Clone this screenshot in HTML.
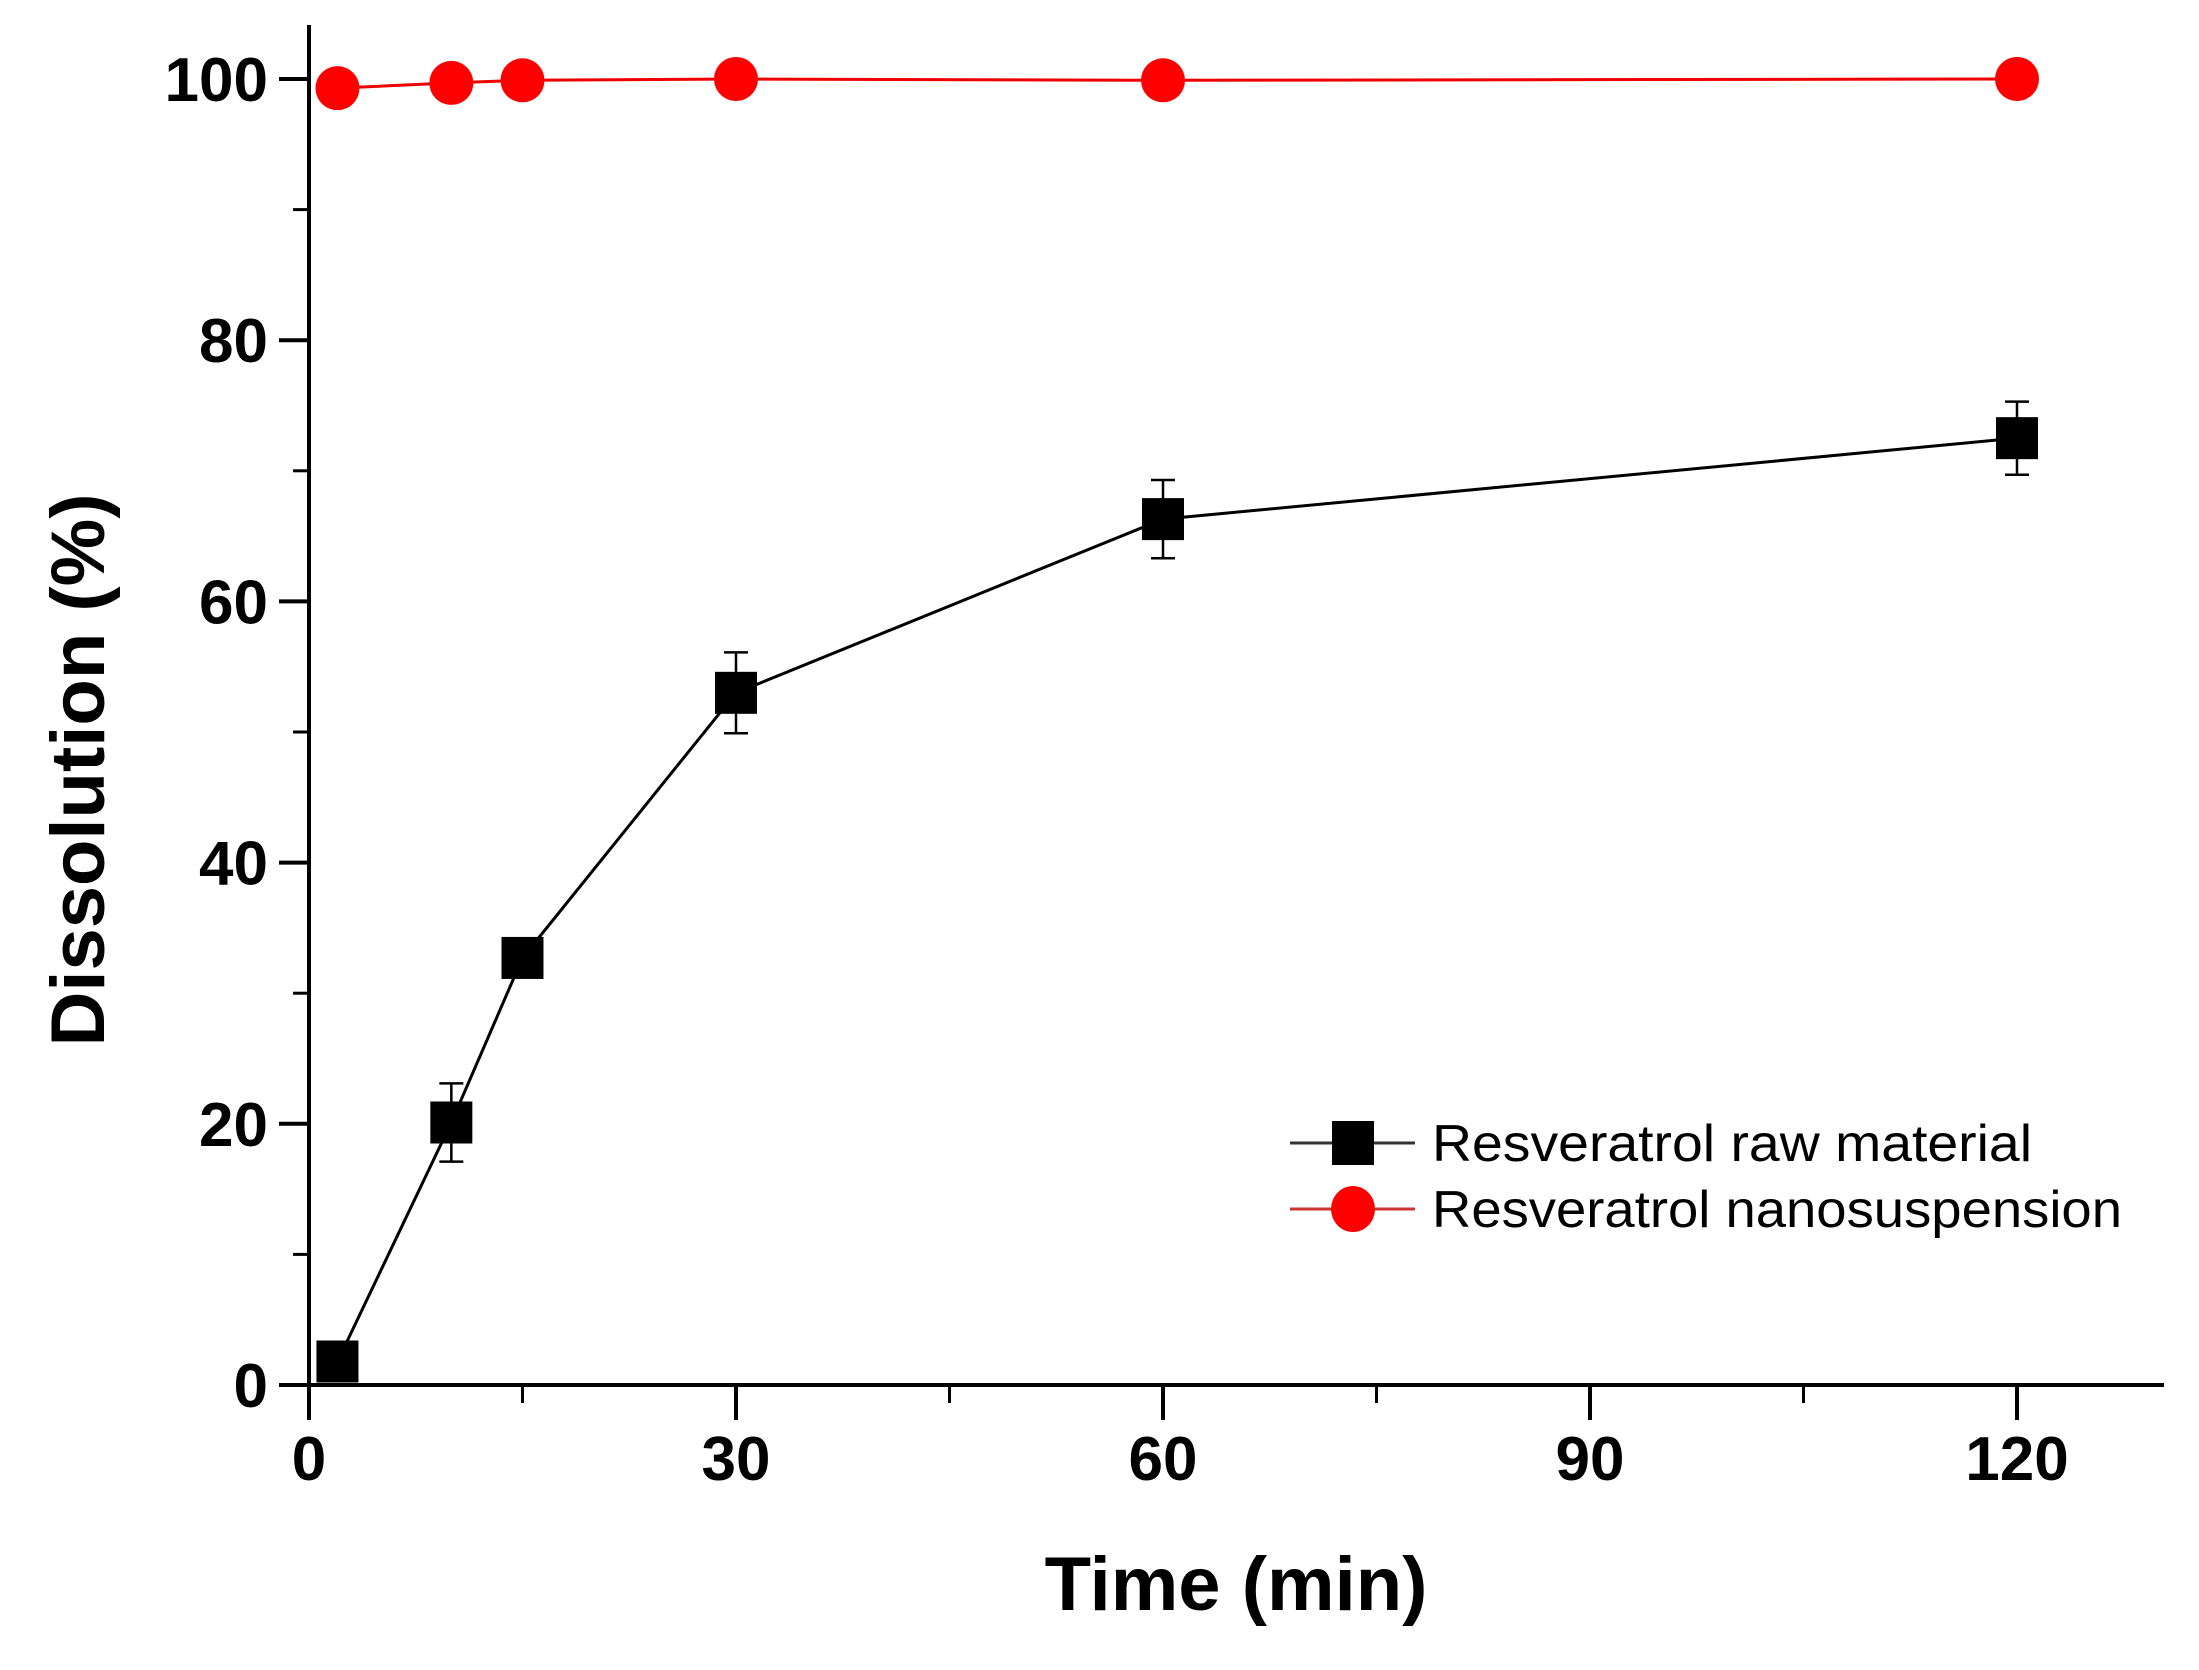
<!DOCTYPE html>
<html><head><meta charset="utf-8"><style>
html,body{margin:0;padding:0;background:#fff;}
svg{display:block;font-family:"Liberation Sans",Arial,sans-serif;}
</style></head><body>
<svg id="chart" width="2199" height="1670" viewBox="0 0 2199 1670" xmlns="http://www.w3.org/2000/svg">
<g id="axes"></g>
<g id="series"></g>
<g id="legend"></g>
<text x="1236" y="1610" font-size="76" font-weight="bold" text-anchor="middle">Time (min)</text>
<text x="0" y="0" font-size="76" font-weight="bold" text-anchor="middle" transform="translate(104,770) rotate(-90)">Dissolution (%)</text>
</svg>
<script>
const times = [2, 10, 15, 30, 60, 120];
const rawValues = [1.8, 20.1, 32.7, 53.0, 66.3, 72.5];
const rawErrors = [0, 3.0, 0, 3.1, 3.0, 2.8];
const nanoValues = [99.3, 99.7, 99.9, 100.0, 99.9, 100.0];
const xTicks = [0, 30, 60, 90, 120];
const xTickLabels = ["0", "30", "60", "90", "120"];
const yTicks = [0, 20, 40, 60, 80, 100];
const yTickLabels = ["0", "20", "40", "60", "80", "100"];
const seriesNames = ["Resveratrol raw material", "Resveratrol nanosuspension"];

const X0 = 309, X1 = 2017, Y0 = 1385, Y1 = 79;
function xs(v){ return X0 + (v/120)*(X1-X0); }
function ys(v){ return Y0 - (v/100)*(Y0-Y1); }
const NS = "http://www.w3.org/2000/svg";
function mk(tag, attrs, parent){ const e = document.createElementNS(NS, tag); for (const k in attrs) e.setAttribute(k, attrs[k]); parent.appendChild(e); return e; }

const axes = document.getElementById('axes');
let a = mk('line', {x1:X0, y1:25, x2:X0, y2:Y0+35, stroke:'#000', 'stroke-width':4}, axes);


a = mk('line', {x1:X0-30, y1:Y0, x2:2164, y2:Y0, stroke:'#000', 'stroke-width':4}, axes);



xTicks.forEach((t, i) => {
  const tk = mk('line', {x1:xs(t), y1:Y0, x2:xs(t), y2:Y0+35, stroke:'#000', 'stroke-width':4}, axes);
  
  
  const lb = mk('text', {x:xs(t), y:1480, 'font-size':62, 'font-weight':'bold', 'text-anchor':'middle'}, axes);
  lb.textContent = xTickLabels[i];
  
  
  const m = t + 15;
  const mt = mk('line', {x1:xs(m), y1:Y0, x2:xs(m), y2:Y0+18, stroke:'#000', 'stroke-width':3}, axes);
  
  
});
yTicks.forEach((t, i) => {
  const tk = mk('line', {x1:X0-30, y1:ys(t), x2:X0, y2:ys(t), stroke:'#000', 'stroke-width':4}, axes);
  
  
  const lb = mk('text', {x:268, y:ys(t)+22, 'font-size':62, 'font-weight':'bold', 'text-anchor':'end'}, axes);
  lb.textContent = yTickLabels[i];
  
  
  if (t < 100) {
    const mt = mk('line', {x1:X0-16, y1:ys(t+10), x2:X0, y2:ys(t+10), stroke:'#000', 'stroke-width':3}, axes);
    
    
  }
});

const ser = document.getElementById('series');
let p = mk('polyline', {points: times.map((t,i)=>xs(t)+','+ys(nanoValues[i])).join(' '), fill:'none', stroke:'#e00', 'stroke-width':3}, ser);


p = mk('polyline', {points: times.map((t,i)=>xs(t)+','+ys(rawValues[i])).join(' '), fill:'none', stroke:'#000', 'stroke-width':3}, ser);


times.forEach((t, i) => {
  if (rawErrors[i] > 0) {
    const x = xs(t), yt = ys(rawValues[i]+rawErrors[i]), yb = ys(rawValues[i]-rawErrors[i]);
    const eb = mk('path', {d:`M${x},${yt}V${yb}M${x-12},${yt}H${x+12}M${x-12},${yb}H${x+12}`, stroke:'#000', 'stroke-width':2.5, fill:'none'}, ser);
    
    
  }
  const sq = mk('rect', {x:xs(t)-21, y:ys(rawValues[i])-21, width:42, height:42, fill:'#000'}, ser);
  
  
  const c = mk('circle', {cx:xs(t), cy:ys(nanoValues[i]), r:22, fill:'#f00'}, ser);
  
  
});

const lg = document.getElementById('legend');
const rowsY = [1143, 1209];
const textLens = [600, 690];
seriesNames.forEach((n, i) => {
  const y = rowsY[i];
  const l = mk('line', {x1:1290, y1:y, x2:1415, y2:y, stroke: i===0?'#333':'#c33', 'stroke-width':3}, lg);
  
  
  let m;
  if (i === 0) m = mk('rect', {x:1332, y:y-22, width:42, height:44, fill:'#000'}, lg);
  else m = mk('ellipse', {cx:1353, cy:y, rx:22, ry:23, fill:'#f00'}, lg);
  
  
  const tx = mk('text', {x:1432, y:y+18, 'font-size':52, textLength:textLens[i], lengthAdjust:'spacingAndGlyphs'}, lg);
  tx.textContent = n;
  
  
});
</script>
</body></html>
